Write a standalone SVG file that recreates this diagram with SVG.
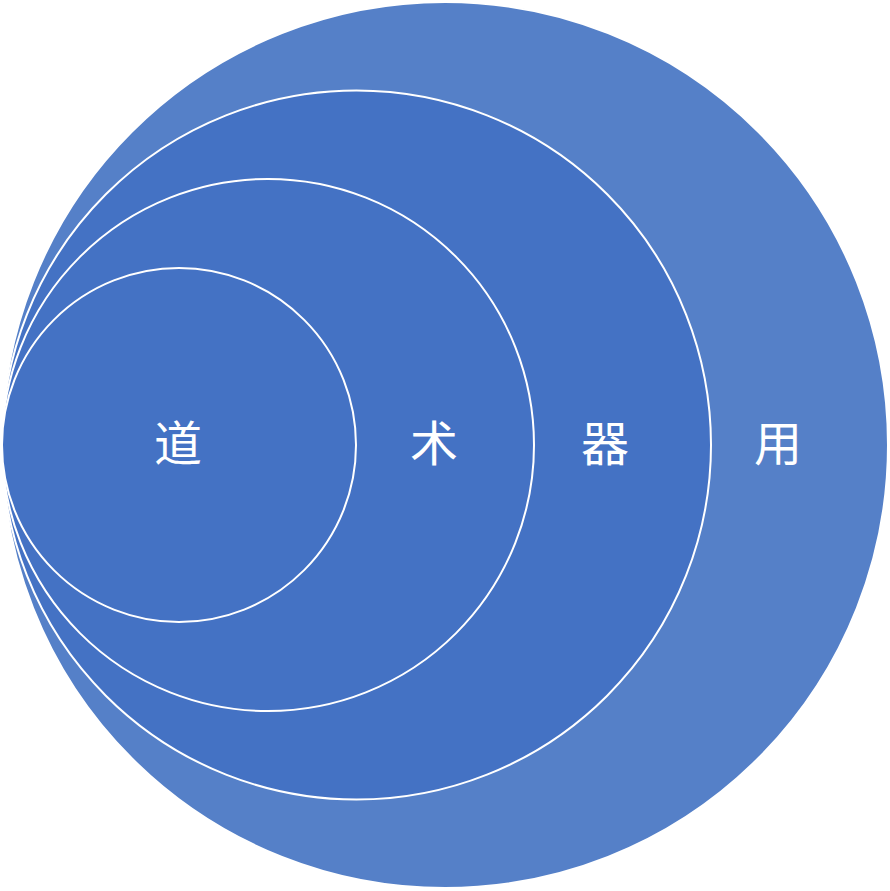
<svg xmlns="http://www.w3.org/2000/svg" width="890" height="891" viewBox="0 0 890 891">
<style>
.c{stroke:#FFFFFF;stroke-width:2}
.t{fill:#FFFFFF;font-family:"Noto Sans CJK SC","Noto Sans CJK TC",sans-serif;font-size:48px;text-anchor:middle;dominant-baseline:central}
</style>
<rect width="890" height="891" fill="#FFFFFF"/>
<g id="yong"><circle class="c" cx="445" cy="445" r="443" fill="#5580C8" stroke="none"/><text class="t" x="778" y="440">用</text></g>
<g id="qi"><circle class="c" cx="356.5" cy="445" r="354.5" fill="#4472C4"/><text class="t" x="605" y="440">器</text></g>
<g id="shu"><circle class="c" cx="268" cy="445" r="266" fill="#4472C4"/><text class="t" x="434" y="440">术</text></g>
<g id="dao"><circle class="c" cx="179" cy="445" r="177" fill="#4472C4"/><text class="t" x="178" y="440">道</text></g>
<g id="connectors"></g>
</svg>
